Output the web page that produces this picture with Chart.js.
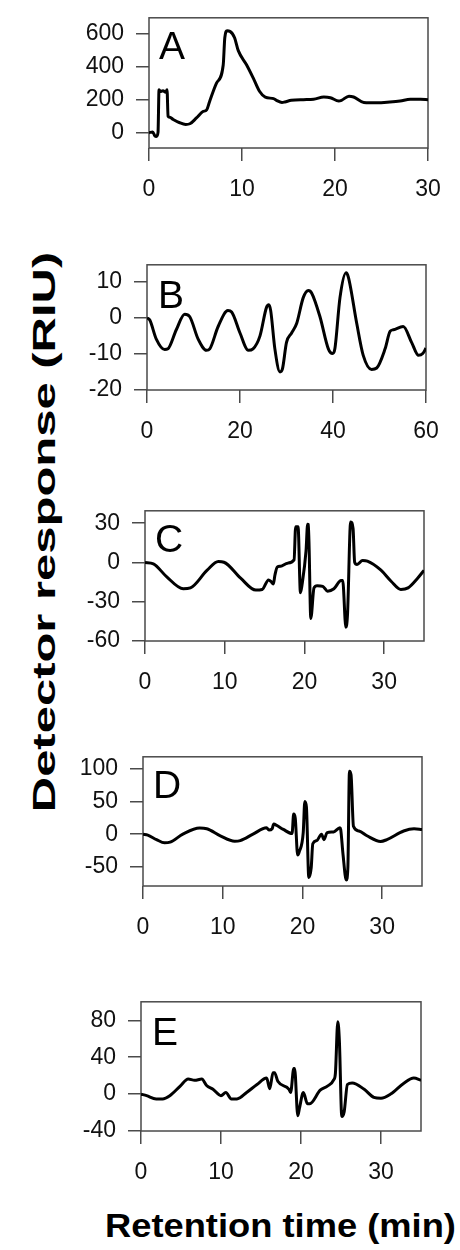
<!DOCTYPE html>
<html>
<head>
<meta charset="utf-8">
<script src="https://cdn.jsdelivr.net/npm/chart.js@4.4.0/dist/chart.umd.min.js"></script>
<style>
  body { margin: 0; background: #fff; width: 460px; height: 1250px; position: relative; overflow: hidden; }
  canvas { position: absolute; left: 0; }
  .axis-title { position: absolute; white-space: nowrap; font-family: 'Liberation Sans', Arial, sans-serif; font-weight: bold; color: #000; line-height: 1; }
  #yTitle { font-size: 32px; left: 44px; top: 532px; transform: translate(-50%, -50%) rotate(-90deg) scaleX(1.53); }
  #xTitle { font-size: 33px; left: 105px; top: 1209px; transform-origin: left top; transform: scaleX(1.1); }
</style>
</head>
<body>
<div id="yTitle" class="axis-title">Detector response (RIU)</div>
<div id="xTitle" class="axis-title">Retention time (min)</div>
<script>
// Panel A
const timeA = [0, 0.4, 0.6, 0.8, 0.97, 1.08, 1.22, 1.5, 1.8, 1.94, 2.05, 2.23, 2.6, 3.3, 3.95, 4.4, 5.1, 5.8, 6.2, 6.5, 7.26, 7.98, 8.15, 8.4, 8.7, 9.2, 9.6, 10.5, 11.2, 11.9, 12.5, 13.4, 13.7, 14.3, 14.6, 15.3, 16.6, 17.7, 18.8, 19.5, 20.4, 20.7, 21.5, 22.0, 23.1, 24.5, 25.9, 27.0, 28.1, 29.2, 30];
const respA = [0, 4, -17, -23, 2, 260, 249, 254, 245, 260, 99, 93, 80, 60, 50, 54, 89, 128, 138, 186, 300, 410, 575, 617, 614, 575, 497, 410, 332, 249, 215, 206, 196, 183, 186, 196, 200, 202, 216, 212, 192, 196, 221, 216, 183, 181, 186, 192, 202, 202, 200];
const xTicksA = [0, 10, 20, 30];
const yTicksA = [0, 200, 400, 600];

// Panel B
const timeB = [0, 0.6, 2.0, 3.8, 4.5, 6.3, 8.1, 9.2, 11.0, 12.8, 13.5, 15.3, 17.4, 18.2, 20.0, 21.8, 22.8, 24.3, 25.7, 26.2, 26.6, 27.5, 28.6, 29.1, 30.0, 31.1, 32.2, 33.6, 34.7, 35.4, 37.2, 39.0, 39.9, 40.4, 41.5, 42.8, 43.3, 45.1, 46.5, 48.3, 49.4, 51.2, 52.3, 53.0, 55.1, 56.9, 58.4, 59.3, 60];
const respB = [0, -0.6, -5.9, -8.8, -8.6, -3.3, 1.0, 0.3, -5.9, -9.0, -8.6, -2.4, 2.0, 1.6, -4.2, -9.0, -8.6, -5.0, 2.9, 3.6, 2.0, -8.6, -15.0, -14.3, -6.8, -4.2, -1.5, 5.6, 7.6, 6.9, 0.3, -8.6, -9.9, -8.6, 5.6, 12.5, 11.3, -1.5, -10.4, -14.3, -13.9, -8.6, -3.7, -3.3, -2.4, -6.8, -10.4, -9.9, -8.4];
const xTicksB = [0, 20, 40, 60];
const yTicksB = [-20, -10, 0, 10];

// Panel C
const timeC = [0, 1.05, 2.7, 4.8, 5.7, 7.8, 9.2, 9.9, 12.0, 13.9, 14.7, 15.5, 15.8, 16.1, 16.3, 16.6, 17.0, 17.9, 18.7, 18.9, 19.2, 19.5, 19.7, 20.2, 20.4, 20.5, 20.8, 21.2, 21.6, 22.3, 22.9, 23.7, 24.6, 24.8, 25.2, 25.4, 25.8, 26.1, 26.3, 26.6, 27.3, 27.9, 29.6, 30.9, 32.1, 33.0, 34.2, 35];
const respC = [0, -1, -10.8, -20.1, -19.4, -5.9, 0.7, 0.2, -12.0, -21.1, -20.6, -13.3, -14.5, -16.5, -9.6, -3.4, -2.9, -0.5, 2.0, 27.3, 27.3, -23.1, -17.0, 8.8, 29.2, 29, -42.8, -19.4, -17.7, -18.2, -21.9, -20.1, -13.8, -13.8, -49.4, -40.3, 31.0, 26, 0.2, -1.5, 1.5, 1.0, -5.9, -14.5, -20.6, -19.4, -12.0, -6];
const xTicksC = [0, 10, 20, 30];
const yTicksC = [-60, -30, 0, 30];

// Panel D
const timeD = [0, 0.6, 1.7, 2.7, 3.4, 5.0, 7.1, 8.0, 9.7, 11.5, 12.2, 13.8, 15.5, 15.8, 16.2, 16.4, 16.8, 17.6, 18.7, 18.9, 19.1, 19.4, 19.6, 20.1, 20.3, 20.5, 20.8, 21.1, 21.3, 21.8, 22.4, 22.7, 23.1, 23.9, 24.7, 24.8, 25.1, 25.5, 25.7, 25.9, 26.1, 26.4, 27.1, 28.1, 29.8, 30.6, 32.7, 34.0, 35];
const respD = [0, -1.5, -8.3, -13.2, -12.2, 0, 9.3, 8.3, -2.4, -10.7, -9.8, 0, 9.8, 6.3, 8.3, 15.6, 13.2, 7.3, 1.0, 30.7, 24.4, -31.7, -26.8, 2.4, 49.8, 41.5, -65.9, -51.2, -14.6, -9.8, 0, -8.3, 2.4, 3.4, 9.8, 7.3, -31.7, -69.8, -51.2, 96.1, 90.2, 12.2, 4.9, -2.4, -11.2, -8.3, 4.9, 8.3, 7.3];
const xTicksD = [0, 10, 20, 30];
const yTicksD = [-50, 0, 50, 100];

// Panel E
const timeE = [0, 0.7, 1.9, 2.7, 3.6, 4.9, 5.9, 6.7, 7.6, 8.2, 9.0, 10.0, 10.6, 11.3, 12.0, 13.2, 14.5, 15.7, 16.1, 16.5, 16.7, 17.1, 18.5, 18.7, 19.1, 19.2, 19.6, 19.8, 20.3, 20.8, 21.1, 22.4, 23.3, 24.1, 24.3, 24.6, 24.8, 25.1, 25.4, 25.8, 26.4, 27.9, 29.1, 30.0, 31.2, 32.9, 34.1, 35];
const respE = [0, -1.7, -5.2, -5.2, -1.7, 8.7, 16.3, 14.9, 16.3, 9.3, 5.2, -1.7, 1.7, -5.2, -5.2, 1.7, 10.4, 17.3, 5.9, 23.2, 23.2, 13.8, 5.2, 1.7, 27.7, 27.7, -23.5, -15.6, 1.7, -10.4, -10.4, 4.2, 8.7, 15.6, 22.5, 78.5, 57.1, -24.2, -19.0, 10.4, 12.1, 5.2, -3.5, -4.5, 0, 12.1, 17.3, 14.9];
const xTicksE = [0, 10, 20, 30];
const yTicksE = [-40, 0, 40, 80];

// panel definitions: data + axis ranges
const panels = [
    { letter: 'A', time: timeA, resp: respA, xTicks: xTicksA, yTicks: yTicksA, xMax: 30, yMin: -93, yMax: 696 },
    { letter: 'B', time: timeB, resp: respB, xTicks: xTicksB, yTicks: yTicksB, xMax: 60, yMin: -20, yMax: 14.7 },
    { letter: 'C', time: timeC, resp: respC, xTicks: xTicksC, yTicks: yTicksC, xMax: 35, yMin: -60, yMax: 39.5 },
    { letter: 'D', time: timeD, resp: respD, xTicks: xTicksD, yTicks: yTicksD, xMax: 35, yMin: -79, yMax: 118 },
    { letter: 'E', time: timeE, resp: respE, xTicks: xTicksE, yTicks: yTicksE, xMax: 35, yMin: -40, yMax: 100 }
];

// plot box in page pixels: left, right, top, bottom
const layout = [
    { left: 149, right: 428, top: 12, bottom: 148, letterDx: 10, letterDy: 41 },
    { left: 147, right: 426, top: 259, bottom: 390, letterDx: 11, letterDy: 43 },
    { left: 145, right: 424, top: 505, bottom: 641, letterDx: 10, letterDy: 41 },
    { left: 143, right: 422, top: 751, bottom: 886, letterDx: 10, letterDy: 41 },
    { left: 141, right: 421, top: 996, bottom: 1131, letterDx: 11, letterDy: 43 }
];

const FONT = "'Liberation Sans', Arial, Helvetica, sans-serif";
const PAD_TOP = 20;
const X_AXIS_H = 64;
const TICK_LEN = 13;
const FRAME_COLOR = '#4a4a4a';

Chart.defaults.font.family = FONT;
Chart.defaults.font.size = 23;
Chart.defaults.color = '#111';

// box around plot area + panel letter
const framePlugin = {
    id: 'frame',
    beforeDatasetsDraw(chart, args, opts) {
        const { ctx, chartArea: a } = chart;
        ctx.save();
        ctx.strokeStyle = FRAME_COLOR;
        ctx.lineWidth = 1.5;
        ctx.strokeRect(a.left, a.top, a.right - a.left, a.bottom - a.top);
        ctx.fillStyle = '#000';
        ctx.font = '39px ' + FONT;
        ctx.textBaseline = 'alphabetic';
        ctx.fillText(opts.letter, a.left + opts.dx, a.top + opts.dy);
        ctx.restore();
    }
};

const axisGrid = {
    display: true,
    drawOnChartArea: false,
    drawTicks: true,
    tickLength: TICK_LEN,
    color: FRAME_COLOR,
    lineWidth: 1.5
};

panels.forEach((p, i) => {
    const box = layout[i];
    const canvas = document.createElement('canvas');
    const h = (box.bottom - box.top) + PAD_TOP + X_AXIS_H;
    canvas.width = 460;
    canvas.height = h;
    canvas.style.top = (box.top - PAD_TOP) + 'px';
    document.body.appendChild(canvas);

    new Chart(canvas, {
        type: 'line',
        data: {
            datasets: [{
                data: p.time.map((t, k) => ({ x: t, y: p.resp[k] })),
                borderColor: '#000',
                borderWidth: 3,
                pointRadius: 0,
                fill: false,
                cubicInterpolationMode: 'monotone'
            }]
        },
        options: {
            responsive: false,
            animation: false,
            devicePixelRatio: 1,
            layout: { padding: { top: PAD_TOP, right: 460 - box.right, left: 0, bottom: 0 } },
            plugins: {
                legend: { display: false },
                tooltip: { enabled: false },
                frame: { letter: p.letter, dx: box.letterDx, dy: box.letterDy }
            },
            scales: {
                x: {
                    type: 'linear',
                    min: 0,
                    max: p.xMax,
                    afterBuildTicks: s => { s.ticks = p.xTicks.map(v => ({ value: v })); },
                    afterFit: s => { s.height = X_AXIS_H; },
                    grid: axisGrid,
                    border: { display: false },
                    ticks: { padding: 15, maxRotation: 0, autoSkip: false }
                },
                y: {
                    type: 'linear',
                    min: p.yMin,
                    max: p.yMax,
                    afterBuildTicks: s => { s.ticks = p.yTicks.map(v => ({ value: v })); },
                    afterFit: s => { s.width = box.left; },
                    grid: axisGrid,
                    border: { display: false },
                    ticks: { padding: 12, autoSkip: false }
                }
            }
        },
        plugins: [framePlugin]
    });
});
</script>
</body>
</html>
